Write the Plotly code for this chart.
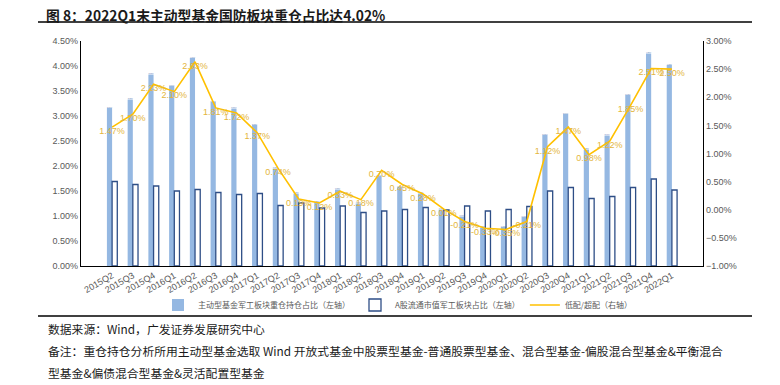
import plotly.graph_objects as go

quarters = ["2015Q2","2015Q3","2015Q4","2016Q1","2016Q2","2016Q3","2016Q4","2017Q1","2017Q2","2017Q3",
            "2017Q4","2018Q1","2018Q2","2018Q3","2018Q4","2019Q1","2019Q2","2019Q3","2019Q4","2020Q1",
            "2020Q2","2020Q3","2020Q4","2021Q1","2021Q2","2021Q3","2021Q4","2022Q1"]
fund_share = [3.16,3.33,3.83,3.60,4.16,3.28,3.15,2.82,1.95,1.45,1.28,1.53,1.25,1.80,1.58,1.45,1.13,0.99,
              0.77,0.78,0.98,2.62,3.04,2.33,2.61,3.42,4.25,4.02]
market_share = [1.69,1.63,1.60,1.50,1.53,1.47,1.43,1.45,1.21,1.26,1.16,1.20,1.07,1.10,1.13,1.17,1.12,1.20,
                1.10,1.13,1.19,1.50,1.57,1.35,1.39,1.57,1.74,1.52]
overweight = [1.47,1.70,2.23,2.10,2.63,1.81,1.72,1.37,0.74,0.19,0.12,0.33,0.18,0.70,0.45,0.28,0.01,-0.21,
              -0.33,-0.35,-0.21,1.12,1.47,0.98,1.22,1.85,2.51,2.50]

name_fund = "主动型基金军工板块重仓持仓占比（左轴）"
name_market = "A股流通市值军工板块占比（左轴）"
name_ow = "低配/超配（右轴）"
title_text = "图 8：2022Q1末主动型基金国防板块重仓占比达4.02%"
source_text = "数据来源：Wind，广发证券发展研究中心"
note_line1 = "备注：重仓持仓分析所用主动型基金选取 Wind 开放式基金中股票型基金-普通股票型基金、混合型基金-偏股混合型基金&平衡混合"
note_line2 = "型基金&偏债混合型基金&灵活配置型基金"

FONT = "Liberation Sans, Noto Sans CJK SC, sans-serif"
CJK = "Noto Sans CJK SC, sans-serif"

fig = go.Figure()
fig.add_trace(go.Bar(
    x=quarters, y=fund_share, name=name_fund,
    marker=dict(color="#95B8E2", line=dict(width=0)),
    text=[f"{v:.2f}%" for v in fund_share], textposition="outside",
    textfont=dict(size=9, color="#5A78B4", family=FONT), cliponaxis=False,
))
fig.add_trace(go.Bar(
    x=quarters, y=market_share, name=name_market,
    marker=dict(color="white", line=dict(width=1.3, color="#2E4E86")),
))
fig.add_trace(go.Scatter(
    x=quarters, y=overweight, name=name_ow, yaxis="y2", mode="lines+text",
    line=dict(color="#FFC000", width=1.6),
    text=[f"{v:.2f}%" for v in overweight], textposition="bottom center",
    textfont=dict(size=9, color="#E3B53C", family=FONT), cliponaxis=False,
))

OFF = 8  # default page body margin
W, H = 780 - OFF, 385 - OFF
# plot area in page pixels
PL, PR, PT, PB = 81, 703, 41, 266
L, R, T, B = PL - OFF, PR - OFF, PT - OFF, PB - OFF
def px(x): return (x - PL) / (PR - PL)
def py(y): return (PB - y) / (PB - PT)

fig.update_layout(
    width=W, height=H,
    margin=dict(l=L, r=W - R, t=T, b=H - B, autoexpand=False),
    paper_bgcolor="white", plot_bgcolor="white",
    barmode="group", bargap=0.5, bargroupgap=0.0,
    font=dict(family=FONT, size=9, color="#595959"),
    showlegend=True,
    legend=dict(orientation="h", x=px(398), y=py(305), xanchor="center", yanchor="middle",
                font=dict(size=8, family=CJK, color="#595959"), itemwidth=30,
                traceorder="normal", bgcolor="rgba(0,0,0,0)"),
    xaxis=dict(type="category", tickangle=-30, showline=True, linecolor="black", linewidth=1.2,
               ticks="", showgrid=False, automargin=False, tickfont=dict(size=9, color="#595959")),
    yaxis=dict(range=[0, 4.5], dtick=0.5, tickformat=".2f", ticksuffix="%", showgrid=False,
               showline=True, linecolor="black", linewidth=1.2, ticks="", zeroline=False,
               automargin=False, tickfont=dict(size=9, color="#595959")),
    yaxis2=dict(range=[-1, 3], dtick=0.5, tickformat=".2f", ticksuffix="%", overlaying="y",
                side="right", showgrid=False, showline=True, linecolor="black", linewidth=1.2,
                ticks="", zeroline=False, automargin=False, tickfont=dict(size=9, color="#595959")),
    shapes=[
        dict(type="line", xref="paper", yref="paper", x0=px(38), x1=px(752), y0=py(22), y1=py(22),
             line=dict(color="black", width=1.5)),
        dict(type="line", xref="paper", yref="paper", x0=px(38), x1=px(752), y0=py(316), y1=py(316),
             line=dict(color="black", width=1.5)),
    ],
    annotations=[
        dict(text="<b>" + title_text + "</b>", xref="paper", yref="paper", x=px(44), y=py(14.5),
             xanchor="left", yanchor="middle", showarrow=False,
             font=dict(size=13.8, color="#1a1a1a", family=CJK)),
        dict(text=source_text, xref="paper", yref="paper", x=px(46), y=py(328),
             xanchor="left", yanchor="middle", showarrow=False,
             font=dict(size=11.8, color="#1a1a1a", family=CJK)),
        dict(text=note_line1, xref="paper", yref="paper", x=px(46), y=py(350),
             xanchor="left", yanchor="middle", showarrow=False,
             font=dict(size=11.8, color="#1a1a1a", family=CJK)),
        dict(text=note_line2, xref="paper", yref="paper", x=px(46), y=py(372),
             xanchor="left", yanchor="middle", showarrow=False,
             font=dict(size=11.8, color="#1a1a1a", family=CJK)),
    ],
)

fig.write_html("out.html")
